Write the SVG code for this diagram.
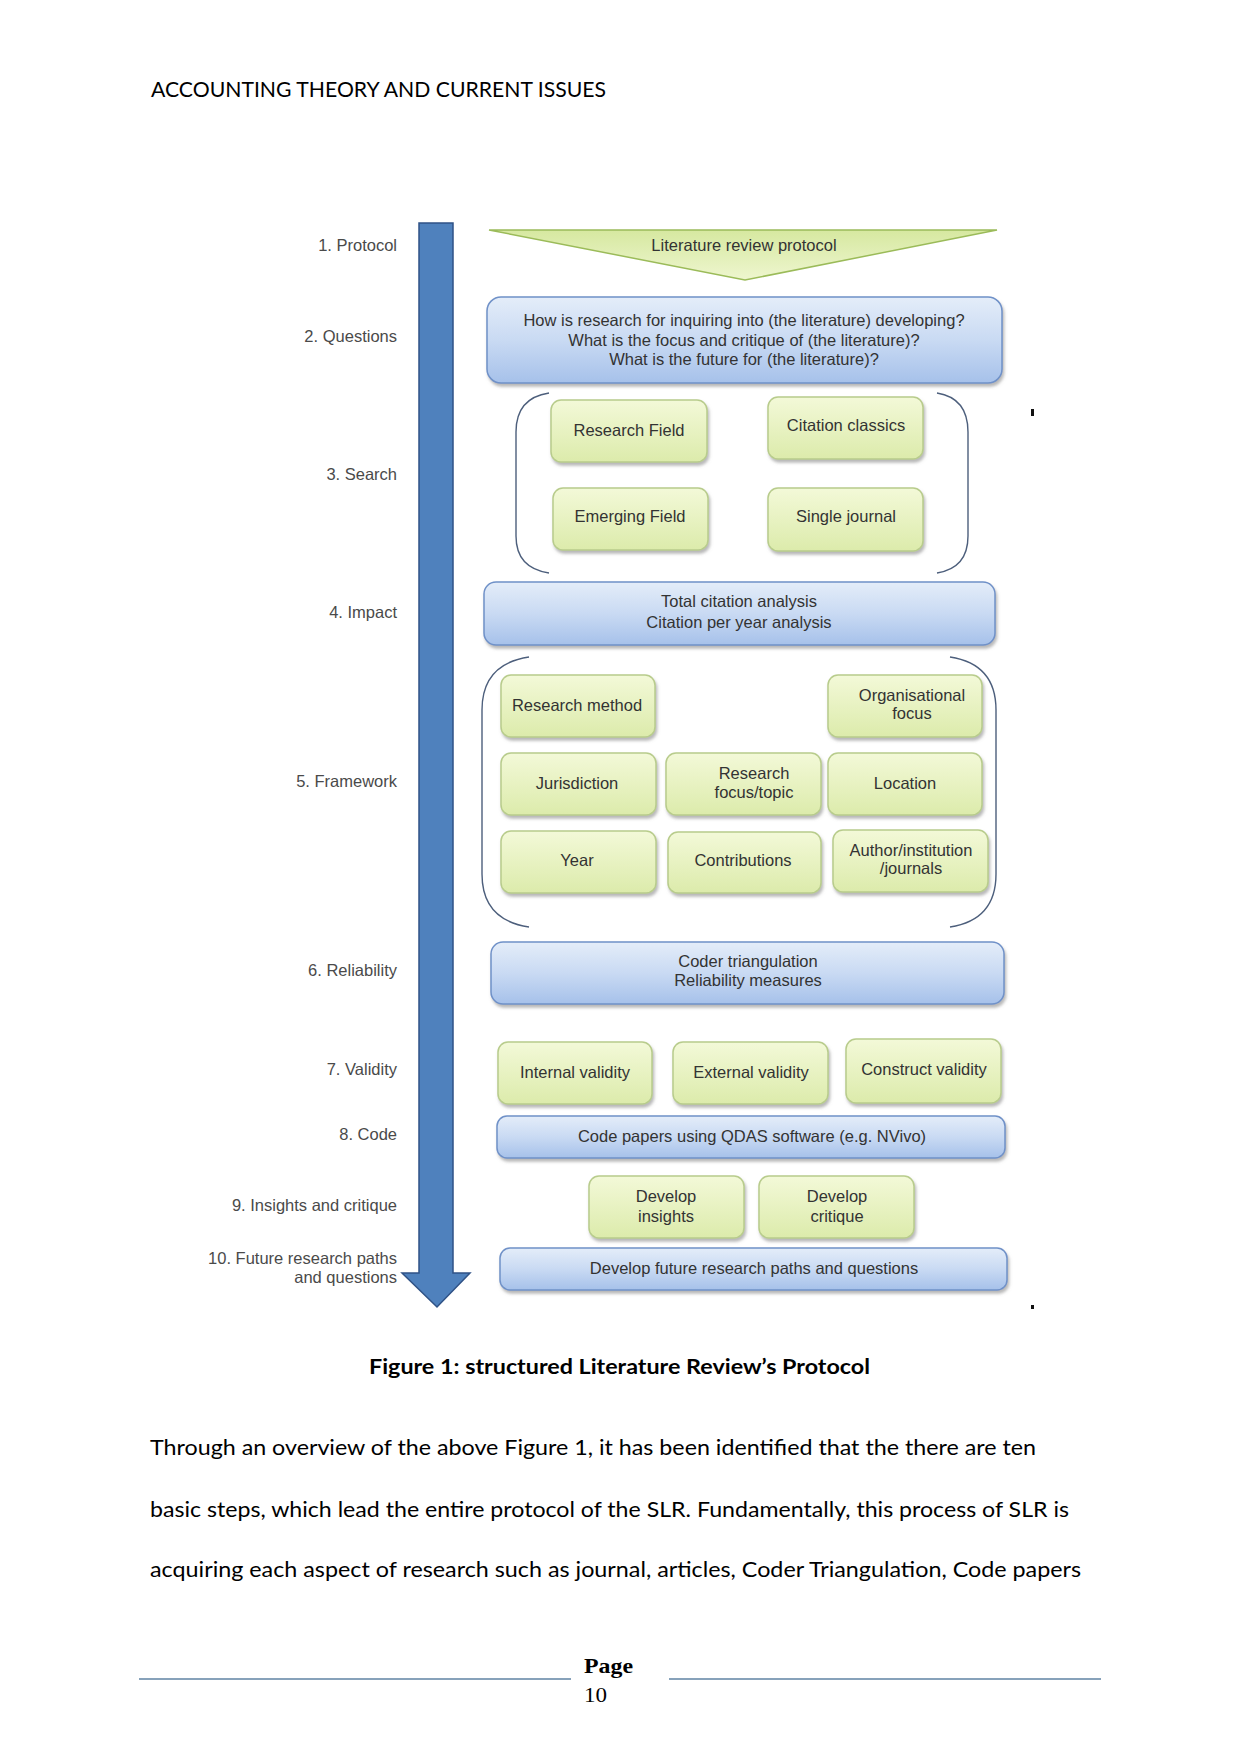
<svg xmlns="http://www.w3.org/2000/svg" width="1241" height="1754" viewBox="0 0 1241 1754">
<defs>
<linearGradient id="gBlue" x1="0" y1="0" x2="0" y2="1">
<stop offset="0" stop-color="#e4edf9"/><stop offset="0.5" stop-color="#c9daf3"/><stop offset="1" stop-color="#a6c1ea"/>
</linearGradient>
<linearGradient id="gGreen" x1="0" y1="0" x2="0" y2="1">
<stop offset="0" stop-color="#f3f9d8"/><stop offset="1" stop-color="#dcebab"/>
</linearGradient>
<linearGradient id="gTri" x1="0" y1="0" x2="0" y2="1">
<stop offset="0" stop-color="#d6e8a0"/><stop offset="1" stop-color="#eef6cf"/>
</linearGradient>
<filter id="sh" x="-5%" y="-10%" width="115%" height="130%">
<feDropShadow dx="1.5" dy="3" stdDeviation="1.5" flood-color="#7d7d7d" flood-opacity="0.55"/>
</filter>
<style>
.blue{fill:url(#gBlue);stroke:#6f91c8;stroke-width:1.5;filter:url(#sh)}
.green{fill:url(#gGreen);stroke:#b8cc8c;stroke-width:1.5;filter:url(#sh)}
.t{font-family:"Liberation Sans",Arial,sans-serif;font-size:16.5px;fill:#333;text-anchor:middle}
.lbl{font-family:"Liberation Sans",Arial,sans-serif;font-size:16.5px;fill:#4a4a4a;text-anchor:end}
.br{fill:none;stroke:#4d5f7c;stroke-width:1.4}
.doc{font-family:Lato,"Liberation Sans",sans-serif;font-size:21px;fill:#000}
</style>
</defs>
<rect width="1241" height="1754" fill="#fff"/>

<text class="doc" x="151" y="97" textLength="455" lengthAdjust="spacingAndGlyphs">ACCOUNTING THEORY AND CURRENT ISSUES</text>

<g id="step-labels">
<text class="lbl" x="397" y="251">1. Protocol</text>
<text class="lbl" x="397" y="342">2. Questions</text>
<text class="lbl" x="397" y="480">3. Search</text>
<text class="lbl" x="397" y="618">4. Impact</text>
<text class="lbl" x="397" y="787">5. Framework</text>
<text class="lbl" x="397" y="976">6. Reliability</text>
<text class="lbl" x="397" y="1075">7. Validity</text>
<text class="lbl" x="397" y="1140">8. Code</text>
<text class="lbl" x="397" y="1211">9. Insights and critique</text>
<text class="lbl" x="397" y="1264">10. Future research paths</text>
<text class="lbl" x="397" y="1283">and questions</text>
</g>

<g id="connectors">
<polygon points="419,223 453,223 453,1273 470,1273 437,1307 402,1273 419,1273" fill="#4f81bd" stroke="#2f5286" stroke-width="1.5"/>
<path class="br" d="M549 393 Q516 398 516 432 L516 536 Q516 568 549 573"/>
<path class="br" d="M937 393 Q968 398 968 432 L968 536 Q968 568 937 573"/>
<path class="br" d="M529 657 Q482 664 482 710 L482 874 Q482 920 529 927"/>
<path class="br" d="M950 657 Q996 664 996 710 L996 874 Q996 920 950 927"/>
</g>

<g id="protocol">
<polygon points="489,230 997,230 745,280" fill="url(#gTri)" stroke="#9bbb59" stroke-width="1.5"/>
<text class="t" x="744" y="251">Literature review protocol</text>
</g>

<g id="questions">
<rect class="blue" x="487" y="297" width="515" height="86" rx="14"/>
<text class="t" x="744" y="326">How is research for inquiring into (the literature) developing?</text>
<text class="t" x="744" y="346">What is the focus and critique of (the literature)?</text>
<text class="t" x="744" y="365">What is the future for (the literature)?</text>
</g>

<g id="research-field"><rect class="green" x="551" y="400" width="156" height="62" rx="10"/><text class="t" x="629" y="436">Research Field</text></g>
<g id="citation-classics"><rect class="green" x="768" y="397" width="155" height="62" rx="10"/><text class="t" x="846" y="431">Citation classics</text></g>
<g id="emerging-field"><rect class="green" x="553" y="488" width="155" height="62" rx="10"/><text class="t" x="630" y="522">Emerging Field</text></g>
<g id="single-journal"><rect class="green" x="768" y="488" width="155" height="63" rx="10"/><text class="t" x="846" y="522">Single journal</text></g>

<g id="impact">
<rect class="blue" x="484" y="582" width="511" height="63" rx="12"/>
<text class="t" x="739" y="607">Total citation analysis</text>
<text class="t" x="739" y="628">Citation per year analysis</text>
</g>

<g id="research-method"><rect class="green" x="501" y="675" width="154" height="62" rx="10"/><text class="t" x="577" y="711">Research method</text></g>
<g id="organisational-focus"><rect class="green" x="828" y="675" width="154" height="62" rx="10"/><text class="t" x="912" y="701">Organisational</text><text class="t" x="912" y="719">focus</text></g>
<g id="jurisdiction"><rect class="green" x="501" y="753" width="155" height="62" rx="10"/><text class="t" x="577" y="789">Jurisdiction</text></g>
<g id="research-focus"><rect class="green" x="666" y="753" width="155" height="62" rx="10"/><text class="t" x="754" y="779">Research</text><text class="t" x="754" y="798">focus/topic</text></g>
<g id="location"><rect class="green" x="828" y="753" width="154" height="62" rx="10"/><text class="t" x="905" y="789">Location</text></g>
<g id="year"><rect class="green" x="501" y="831" width="155" height="62" rx="10"/><text class="t" x="577" y="866">Year</text></g>
<g id="contributions"><rect class="green" x="668" y="832" width="153" height="61" rx="10"/><text class="t" x="743" y="866">Contributions</text></g>
<g id="author-institution"><rect class="green" x="833" y="830" width="155" height="62" rx="10"/><text class="t" x="911" y="856">Author/institution</text><text class="t" x="911" y="874">/journals</text></g>

<g id="reliability">
<rect class="blue" x="491" y="942" width="513" height="62" rx="12"/>
<text class="t" x="748" y="967">Coder triangulation</text>
<text class="t" x="748" y="986">Reliability measures</text>
</g>

<g id="internal-validity"><rect class="green" x="498" y="1042" width="154" height="62" rx="10"/><text class="t" x="575" y="1078">Internal validity</text></g>
<g id="external-validity"><rect class="green" x="673" y="1042" width="155" height="62" rx="10"/><text class="t" x="751" y="1078">External validity</text></g>
<g id="construct-validity"><rect class="green" x="846" y="1039" width="155" height="64" rx="10"/><text class="t" x="924" y="1075">Construct validity</text></g>

<g id="code">
<rect class="blue" x="497" y="1116" width="508" height="42" rx="10"/>
<text class="t" x="752" y="1142">Code papers using QDAS software (e.g. NVivo)</text>
</g>

<g id="develop-insights"><rect class="green" x="589" y="1176" width="155" height="62" rx="10"/><text class="t" x="666" y="1202">Develop</text><text class="t" x="666" y="1222">insights</text></g>
<g id="develop-critique"><rect class="green" x="759" y="1176" width="155" height="62" rx="10"/><text class="t" x="837" y="1202">Develop</text><text class="t" x="837" y="1222">critique</text></g>

<g id="future">
<rect class="blue" x="500" y="1248" width="507" height="42" rx="10"/>
<text class="t" x="754" y="1274">Develop future research paths and questions</text>
</g>

<rect x="1031" y="409" width="3" height="7" fill="#111"/>
<rect x="1031" y="1305" width="3" height="4" fill="#111"/>

<text class="doc" x="369" y="1374" font-weight="bold" textLength="501" lengthAdjust="spacingAndGlyphs">Figure 1: structured Literature Review’s Protocol</text>

<text class="doc" x="150" y="1455" textLength="886" lengthAdjust="spacingAndGlyphs">Through an overview of the above Figure 1, it has been identified that the there are ten</text>
<text class="doc" x="150" y="1517" textLength="919" lengthAdjust="spacingAndGlyphs">basic steps, which lead the entire protocol of the SLR. Fundamentally, this process of SLR is</text>
<text class="doc" x="150" y="1577" textLength="931" lengthAdjust="spacingAndGlyphs">acquiring each aspect of research such as journal, articles, Coder Triangulation, Code papers</text>

<line x1="139" y1="1679" x2="571" y2="1679" stroke="#5f83a3" stroke-width="1.5"/>
<line x1="669" y1="1679" x2="1101" y2="1679" stroke="#5f83a3" stroke-width="1.5"/>
<text x="584" y="1673" font-family="'Liberation Serif',serif" font-weight="bold" font-size="22" textLength="49" lengthAdjust="spacingAndGlyphs">Page</text>
<text x="584" y="1702" font-family="'Liberation Serif',serif" font-size="22" textLength="23" lengthAdjust="spacingAndGlyphs">10</text>
</svg>
